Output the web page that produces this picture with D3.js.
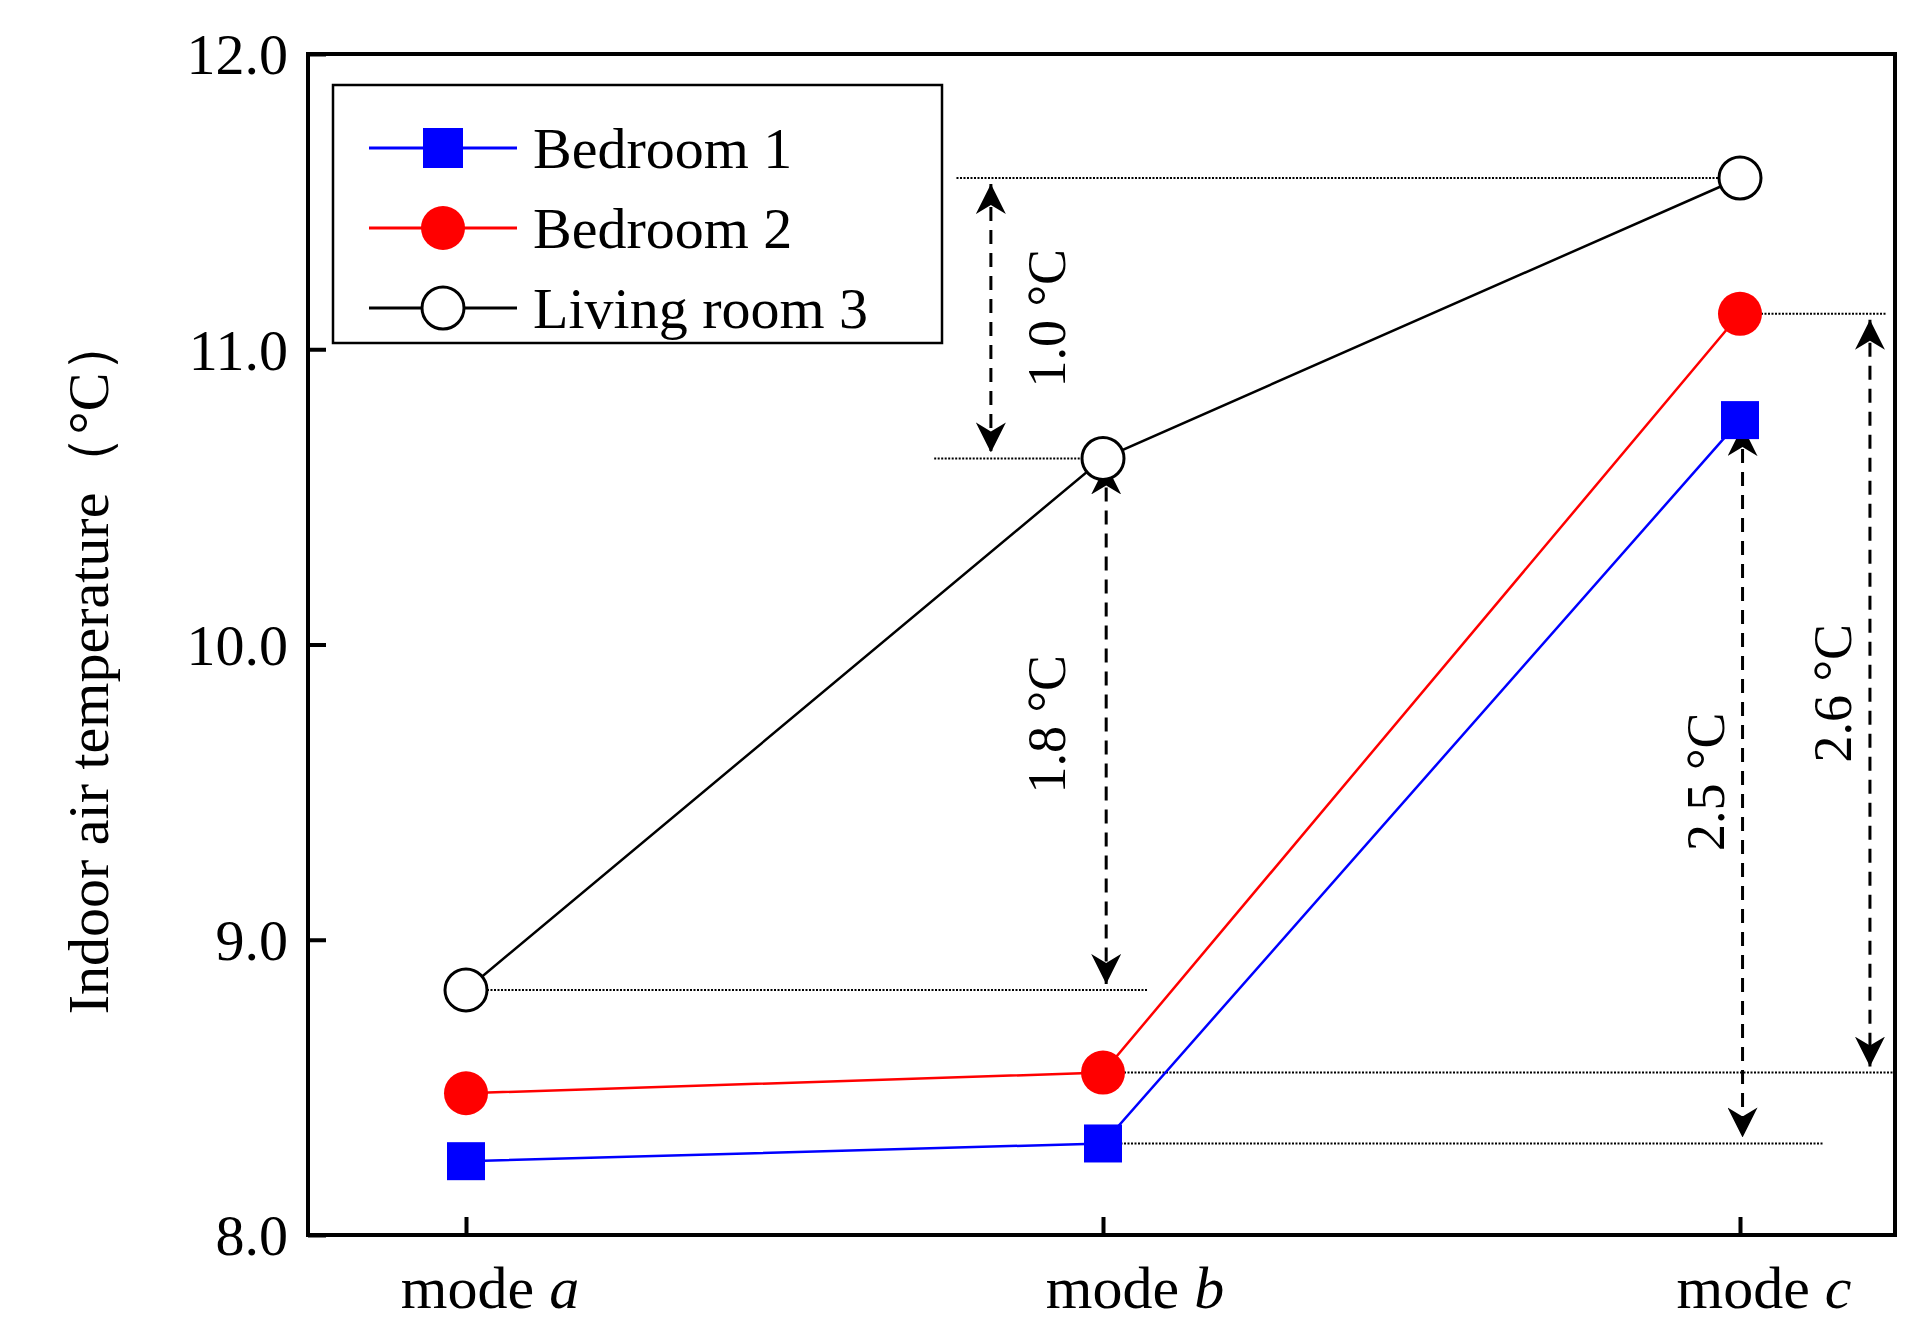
<!DOCTYPE html><html><head><meta charset="utf-8"><script src="https://cdn.jsdelivr.net/npm/d3@7"></script>
<style>body{margin:0;background:#fff}text{font-family:"Liberation Serif","Times New Roman",serif}</style></head><body>
<svg id="c" width="1925" height="1340"></svg>
<script>
const modes=["a","b","c"];
const bedroom1=[8.25,8.31,10.76];
const bedroom2=[8.48,8.55,11.12];
const living=[8.83,10.63,11.58];
const yTicks=[8,9,10,11,12];
const seriesNames=["Bedroom 1","Bedroom 2","Living room 3"];
// annotations in data units: [x index, y1, y2, label, labelX]
const arrows=[[0.824,11.58,10.63,"1.0 °C",0.91],[1.005,10.63,8.83,"1.8 °C",0.91],[2.004,10.76,8.31,"2.5 °C",1.945],[2.204,11.12,8.55,"2.6 °C",2.145]];
const guides=[[0.77,2,11.58],[0.735,1,10.63],[0,1.07,8.83],[1,2.24,8.55],[1,2.13,8.31],[2,2.23,11.12]];
const svg=d3.select("#c");
const L=308,T=54,R=1895,B=1235;
const x=d3.scaleLinear().domain([0,2]).range([466,1740]);
const y=d3.scaleLinear().domain([8,12]).range([B,T]);
// guides
svg.selectAll(".g").data(guides).join("line").attr("x1",d=>x(d[0])).attr("x2",d=>x(d[1])).attr("y1",d=>y(d[2])).attr("y2",d=>y(d[2])).attr("stroke","#000").attr("stroke-width",2).attr("stroke-dasharray","2,1.5");
svg.append("defs").append("marker").attr("id","ah").attr("viewBox","0 0 10 10").attr("refX",10).attr("refY",5).attr("markerWidth",10).attr("markerHeight",10).attr("markerUnits","userSpaceOnUse").attr("orient","auto-start-reverse")
 .append("path").attr("d","M0,0L10,5L0,10L3,5Z");
d3.select("#ah").attr("markerWidth",30).attr("markerHeight",30);
svg.selectAll(".ar").data(arrows).join("line").attr("x1",d=>x(d[0])).attr("x2",d=>x(d[0])).attr("y1",d=>y(d[1])+6).attr("y2",d=>y(d[2])-6).attr("stroke","#000").attr("stroke-width",3).attr("stroke-dasharray","14,9").attr("marker-start","url(#ah)").attr("marker-end","url(#ah)");
svg.selectAll(".al").data(arrows).join("text").attr("transform",d=>`translate(${x(d[4])},${(y(d[1])+y(d[2]))/2}) rotate(-90)`).attr("text-anchor","middle").attr("dy","0.35em").attr("font-size",54).text(d=>d[3]);
// lines
const line=d3.line().x((d,i)=>x(i)).y(d=>y(d));
const cols=["#0000ff","#ff0000","#000"];
[bedroom1,bedroom2,living].forEach((s,k)=>svg.append("path").attr("d",line(s)).attr("fill","none").attr("stroke",cols[k]).attr("stroke-width",2.5));
svg.selectAll(".s").data(bedroom1).join("rect").attr("x",(d,i)=>x(i)-19).attr("y",d=>y(d)-19).attr("width",38).attr("height",38).attr("fill","#0000ff");
svg.selectAll(".r").data(bedroom2).join("circle").attr("cx",(d,i)=>x(i)).attr("cy",d=>y(d)).attr("r",22).attr("fill","#ff0000");
svg.selectAll(".o").data(living).join("circle").attr("cx",(d,i)=>x(i)).attr("cy",d=>y(d)).attr("r",21).attr("fill","#fff").attr("stroke","#000").attr("stroke-width",3);
// axes
svg.append("rect").attr("x",L).attr("y",T).attr("width",R-L).attr("height",B-T).attr("fill","none").attr("stroke","#000").attr("stroke-width",4);
const ya=svg.append("g").attr("transform",`translate(${L},0)`).call(d3.axisRight(y).tickValues(yTicks).tickSize(18).tickFormat(""));
ya.select(".domain").remove(); ya.selectAll("line").attr("stroke-width",4);
svg.selectAll(".yl").data(yTicks).join("text").attr("x",L-20).attr("y",d=>y(d)).attr("dy","0.35em").attr("text-anchor","end").attr("font-size",58).text(d=>d.toFixed(1));
const xa=svg.append("g").attr("transform",`translate(0,${B})`).call(d3.axisTop(x).tickValues([0,1,2]).tickSize(18).tickFormat(""));
xa.select(".domain").remove(); xa.selectAll("line").attr("stroke-width",4);
const xl=svg.selectAll(".xl").data(modes).join("text").attr("x",(d,i)=>x(i)+(i==2?24:i==0?24:32)).attr("y",B+73).attr("text-anchor","middle").attr("font-size",60);
xl.append("tspan").text("mode ");xl.append("tspan").attr("font-style","italic").text(d=>d);
svg.append("text").attr("transform",`translate(${108},${(T+B)/2+20}) rotate(-90)`).attr("text-anchor","middle").attr("font-size",58).text("Indoor air temperature（°C）");
// legend
svg.append("rect").attr("x",333).attr("y",85).attr("width",609).attr("height",258).attr("fill","#fff").attr("stroke","#000").attr("stroke-width",2.5);
seriesNames.forEach((n,k)=>{const cy=148+k*80;
 svg.append("line").attr("x1",369).attr("x2",517).attr("y1",cy).attr("y2",cy).attr("stroke",cols[k]).attr("stroke-width",3);
 if(k==0)svg.append("rect").attr("x",423).attr("y",cy-20).attr("width",40).attr("height",40).attr("fill",cols[0]);
 else if(k==1)svg.append("circle").attr("cx",443).attr("cy",cy).attr("r",22).attr("fill",cols[1]);
 else svg.append("circle").attr("cx",443).attr("cy",cy).attr("r",21).attr("fill","#fff").attr("stroke","#000").attr("stroke-width",3);
 svg.append("text").attr("x",533).attr("y",cy).attr("dy","0.35em").attr("font-size",58).text(n);});
</script></body></html>
